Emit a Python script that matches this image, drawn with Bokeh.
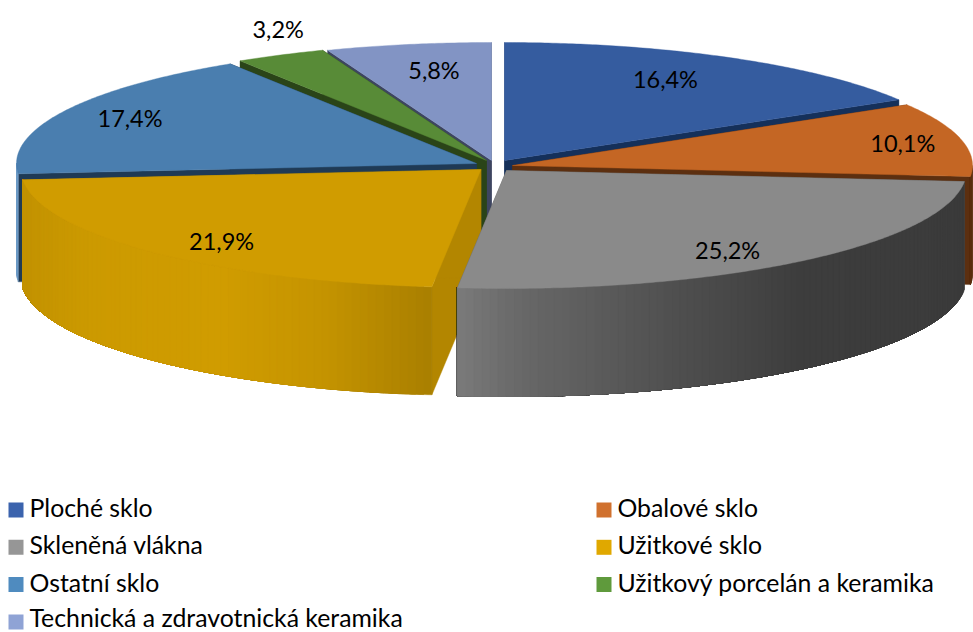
import math
from bokeh.plotting import figure
from bokeh.models import Range1d, ColumnDataSource
from bokeh.core.properties import value
from bokeh.embed import file_html
from bokeh.resources import INLINE

categories = ["Ploché sklo", "Obalové sklo", "Skleněná vlákna", "Užitkové sklo",
              "Ostatní sklo", "Užitkový porcelán a keramika",
              "Technická a zdravotnická keramika"]
shares = [16.4, 10.1, 25.2, 21.9, 17.4, 3.2, 5.8]
labels = ["16,4%", "10,1%", "25,2%", "21,9%", "17,4%", "3,2%", "5,8%"]

# layout and style
RX, RY, DEPTH = 460.0, 118.0, 108.0
APEX = [(504, 160), (512, 165), (506, 170), (480.5, 169), (476, 163), (486, 160), (491, 160)]
LABEL_F = [(0.71, 0.79), (0.87, 0.85), (0.76, 0.87), (0.79, 0.87), (0.84, 0.87), (1.01, 1.25), (0.69, 0.78)]
TOP = ["#355c9f", "#c46624", "#8a8a8a", "#d09c00", "#4a7eaf", "#588b37", "#8294c4"]
CUT = ["#15305a", "#5c2f10", "#5a5a5a", "#b38600", "#1f3a55", "#2a4418", "#3d4560"]
SWATCH = ["#3b63ad", "#d0712e", "#969696", "#e0a800", "#4f8bbf", "#5f9a3c", "#8fa3d5"]
PAINT_ORDER = [6, 5, 4, 0, 1, 3, 2]
WALL_STOPS = {
    0: [(0, "#2a4a80"), (1, "#2a4a80")],
    1: [(0, "#5c2f10"), (1, "#5c2f10")],
    2: [(457, "#7a7a7a"), (520, "#686868"), (650, "#535353"), (800, "#3d3d3d"), (975, "#3b3b3b")],
    3: [(20, "#c29200"), (90, "#cc9a00"), (220, "#d09c00"), (320, "#c59400"), (432, "#a97f00")],
    4: [(0, "#6d9ac5"), (1, "#6d9ac5")],
    5: [(0, "#3a5c22"), (1, "#3a5c22")],
    6: [(0, "#5a6a90"), (1, "#5a6a90")],
}


def hex_mix(stops, x):
    if x <= stops[0][0]:
        return stops[0][1]
    for (x0, c0), (x1, c1) in zip(stops, stops[1:]):
        if x <= x1:
            t = (x - x0) / (x1 - x0)
            rgb = [round(int(c0[i:i + 2], 16) * (1 - t) + int(c1[i:i + 2], 16) * t) for i in (1, 3, 5)]
            return "#%02x%02x%02x" % tuple(rgb)
    return stops[-1][1]


def point(i, deg, frac=1.0):
    a = math.radians(deg)
    return APEX[i][0] + frac * RX * math.sin(a), APEX[i][1] - frac * RY * math.cos(a)


edges = [0.0]
for s in shares:
    edges.append(edges[-1] + s / sum(shares) * 360.0)

xs, ys, colors = [], [], []


def add(poly, color):
    xs.append([q[0] for q in poly])
    ys.append([q[1] for q in poly])
    colors.append(color)


for i in PAINT_ORDER:
    a0, a1 = edges[i], edges[i + 1]
    apex = APEX[i]
    # cut faces, drawn first so that the top and the nearer slices cover them
    for a in (a0, a1):
        x, y = point(i, a)
        add([apex, (x, y), (x, y + DEPTH), (apex[0], apex[1] + DEPTH)], CUT[i])
    # outer wall: only the front half of the rim is visible; each band runs to the
    # end of the wall and the next one paints over it, so there are no seams
    lo, hi = max(a0, 90.0), min(a1, 270.0)
    if hi > lo:
        n = max(2, int(hi - lo))
        rim = [point(i, lo + (hi - lo) * k / (n * 2)) for k in range(n * 2 + 1)]
        for k in range(n):
            part = rim[k * 2:]
            poly = part + [(q[0], q[1] + DEPTH) for q in reversed(part)]
            add(poly, hex_mix(WALL_STOPS[i], rim[k * 2 + 1][0]))
    # top face
    n = max(2, int((a1 - a0) * 2))
    arc = [point(i, a0 + (a1 - a0) * k / n) for k in range(n + 1)]
    add([apex] + arc, TOP[i])

p = figure(width=973, height=632, output_backend="svg", toolbar_location=None,
           x_range=Range1d(0, 973), y_range=Range1d(632, 0), min_border=0,
           outline_line_color=None, background_fill_color="white", border_fill_color="white")
p.axis.visible = False
p.grid.visible = False

p.patches(xs="x", ys="y", fill_color="c", line_color="c", line_width=0.4,
          source=ColumnDataSource(dict(x=xs, y=ys, c=colors)))

lx, ly = [], []
for i in range(len(shares)):
    mid = (edges[i] + edges[i + 1]) / 2
    a = math.radians(mid)
    lx.append(APEX[i][0] + LABEL_F[i][0] * RX * math.sin(a))
    ly.append(APEX[i][1] - LABEL_F[i][1] * RY * math.cos(a))
p.text(x=lx, y=ly, text=labels, text_align="center", text_baseline="middle",
       text_font=value("Lato"), text_font_size="23.5px", text_color="#000000")

col_x = [8, 596]
row_y = [509.5, 546.8, 584, 621.5]
text_y = [507, 544.3, 581.5, 616.8]
sx, sy, tx, ty = [], [], [], []
for i in range(len(categories)):
    sx.append(col_x[i % 2])
    sy.append(row_y[i // 2])
    tx.append(col_x[i % 2] + 21)
    ty.append(text_y[i // 2])
p.quad(left=sx, right=[v + 15 for v in sx], top=[v - 7.5 for v in sy], bottom=[v + 7.5 for v in sy],
       fill_color=SWATCH, line_color=None)
p.text(x=tx, y=ty, text=categories, text_align="left", text_baseline="middle",
       text_font=value("Lato"), text_font_size="24.8px", text_color="#000000")

open("out.html", "w").write(file_html(p, INLINE))
